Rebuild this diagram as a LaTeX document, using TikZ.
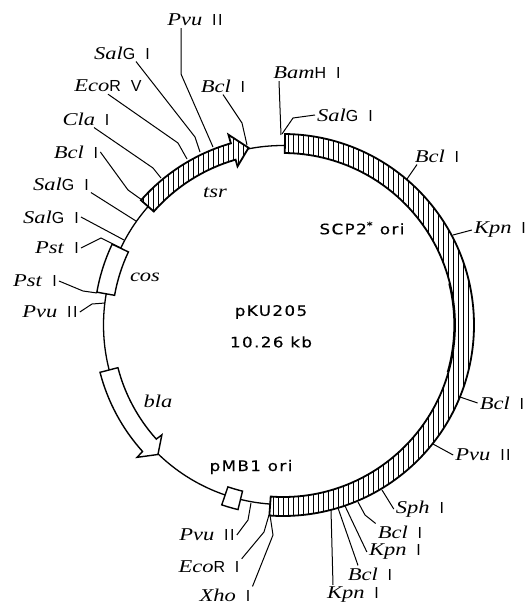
\documentclass[tikz,border=0pt]{standalone}
\usepackage{fontspec}
\setmainfont[FakeStretch=1.25]{Liberation Serif}
\setsansfont{Liberation Sans}
\newfontfamily\mapfont[LetterSpace=10,FakeStretch=1.15,FakeBold=0.3]{DejaVu Sans}
\usepackage{tikz}
\usetikzlibrary{calc}
\newcommand{\enz}[2]{\textit{#1}\hspace{.55em}{\fontsize{16}{18}\sffamily #2}}
\newcommand{\enzc}[3]{\textit{#1}{\fontsize{16}{18}\sffamily #2}\hspace{.55em}{\fontsize{16}{18}\sffamily #3}}
\newcommand{\sector}[4]{(#1:#3) arc[start angle=#1,end angle=#2,radius=#3] -- (#2:#4) arc[start angle=#2,end angle=#1,radius=#4] -- cycle}
\newcommand{\tsrpath}{(221.3:189) arc[start angle=221.3,end angle=254,radius=189] -- (254:198) -- (259:180.5) -- (254:165) -- (254:172) arc[start angle=254,end angle=221.3,radius=172] -- cycle}
\tikzset{
  backbone/.style={draw=black,line width=1.3pt},
  bandedge/.style={draw=black,line width=1.8pt,line join=miter},
  boxedge/.style={draw=black,line width=1.4pt,fill=white,line join=miter},
  hatch/.style={draw=black,line width=1pt},
  leader/.style={draw=black,line width=1pt},
  sitelabel/.style={font=\fontsize{18}{20}\selectfont,inner sep=2pt},
  genelabel/.style={font=\fontsize{18}{20}\selectfont\itshape,inner sep=2pt},
  maplabel/.style={font=\fontsize{14.5}{16}\mapfont,inner sep=2pt}
}
\begin{document}
\begin{tikzpicture}[x=1pt,y=-1pt]
  \useasboundingbox (0,0) rectangle (530,605);

  % plasmid ring, angles run clockwise from the right
  \begin{scope}[shift={(283,325)}]
    \draw[backbone] (0,0) circle[radius=179.5];

    % SCP2* ori segment
    \fill[white] \sector{-89.4}{94.1}{191}{172};
    \begin{scope}
      \clip \sector{-89.4}{94.1}{191}{172};
      \foreach \hx in {-10,-5,...,195}
        \draw[hatch] (\hx,-200) -- (\hx,200);
    \end{scope}
    \draw[bandedge] \sector{-89.4}{94.1}{191}{172};
    \draw[line width=1.8pt] (-14:171.3) arc[start angle=-14,end angle=16,radius=171.3];

    % tsr arrow
    \path[fill=white] \tsrpath;
    \begin{scope}
      \clip \tsrpath;
      \foreach \hx in {-150,-145,...,-25}
        \draw[hatch] (\hx,-200) -- (\hx,-50);
    \end{scope}
    \draw[bandedge] \tsrpath;

    % cos and pMB1 boxes
    \draw[boxedge] \sector{190}{205.3}{189}{171};
    \draw[boxedge] \sector{103.7}{108.8}{190}{171};

    % bla arrow
    \draw[boxedge] (165.5:189) arc[start angle=165.5,end angle=138,radius=189] -- (137.8:197) -- (134:180) -- (137.8:163.5) -- (138:170.5) arc[start angle=138,end angle=165.5,radius=170.5] -- cycle;
  \end{scope}

  % free ends of the leaders
  \coordinate (sitePvuTop) at (213,147);
  \coordinate (siteSalA) at (200,152);
  \coordinate (siteEcoV) at (187,159);
  \coordinate (siteCla) at (161,178);
  \coordinate (siteBclLeft) at (142,200);
  \coordinate (siteSalB) at (136,221);
  \coordinate (siteSalC) at (124,240);
  \coordinate (sitePstA) at (121,248);
  \coordinate (sitePstB) at (97,293);
  \coordinate (sitePvuLeft) at (105,303);
  \coordinate (siteBclTop) at (247,145);
  \coordinate (siteBam) at (281,135);
  \coordinate (siteSalTop) at (282,134);
  \coordinate (siteBclUp) at (407,179);
  \coordinate (siteKpnUp) at (453,235);
  \coordinate (siteBclRight) at (460,397);
  \coordinate (sitePvuRight) at (433,444);
  \coordinate (siteSph) at (382,490);
  \coordinate (siteBclLow) at (358,502);
  \coordinate (siteKpnLow) at (345,506);
  \coordinate (siteBclBot) at (338,508);
  \coordinate (siteKpnBot) at (331,510);
  \coordinate (sitePvuBot) at (251,503);
  \coordinate (siteEcoI) at (269,515);
  \coordinate (siteXho) at (270,515);

  % site labels
  \node[sitelabel] (pvuTop) at (195,20) {\enz{Pvu}{I\kern1.5pt I}};
  \node[sitelabel] (salA) at (122,53) {\enzc{Sal}{G}{I}};
  \node[sitelabel] (ecoV) at (108,86) {\enzc{Eco}{R}{V}};
  \node[sitelabel] (claI) at (86,119) {\enz{Cla}{I}};
  \node[sitelabel] (bclLeft) at (76,152) {\enz{Bcl}{I}};
  \node[sitelabel] (salB) at (61,184) {\enzc{Sal}{G}{I}};
  \node[sitelabel] (salC) at (51,217) {\enzc{Sal}{G}{I}};
  \node[sitelabel] (pstA) at (57,248) {\enz{Pst}{I}};
  \node[sitelabel] (pstB) at (35,281) {\enz{Pst}{I}};
  \node[sitelabel] (pvuLeft) at (50,312) {\enz{Pvu}{I\kern1.5pt I}};
  \node[sitelabel] (bclTop) at (223,86) {\enz{Bcl}{I}};
  \node[sitelabel] (bamH) at (307,73) {\enzc{Bam}{H}{I}};
  \node[sitelabel] (salTop) at (345,115) {\enzc{Sal}{G}{I}};
  \node[sitelabel] (bclUp) at (437,156) {\enz{Bcl}{I}};
  \node[sitelabel] (kpnUp) at (500,230) {\enz{Kpn}{I}};
  \node[sitelabel] (bclRight) at (502,403) {\enz{Bcl}{I}};
  \node[sitelabel] (pvuRight) at (483,455) {\enz{Pvu}{I\kern1.5pt I}};
  \node[sitelabel] (sphI) at (420,509) {\enz{Sph}{I}};
  \node[sitelabel] (bclLow) at (400,532) {\enz{Bcl}{I}};
  \node[sitelabel] (kpnLow) at (395,552) {\enz{Kpn}{I}};
  \node[sitelabel] (bclBot) at (370,574) {\enz{Bcl}{I}};
  \node[sitelabel] (kpnBot) at (353,595) {\enz{Kpn}{I}};
  \node[sitelabel] (pvuBot) at (207,535) {\enz{Pvu}{I\kern1.5pt I}};
  \node[sitelabel] (ecoI) at (209,567) {\enzc{Eco}{R}{I}};
  \node[sitelabel] (xhoI) at (225,595) {\enz{Xho}{I}};

  % gene and map labels
  \node[genelabel] (tsr) at (215,193) {tsr};
  \node[genelabel] (cos) at (145,277) {cos};
  \node[genelabel] (bla) at (158,401) {bla};
  \node[maplabel] (scp) at (362,228) {SCP2\textsuperscript{*} ori};
  \node[maplabel] (pmb) at (251,467) {pMB1 ori};
  \node[maplabel] (name) at (271,312) {pKU205};
  \node[maplabel] (size) at (271,342) {10.26 kb};

  \draw[leader] ([xshift=-14pt]pvuTop.south) -- (181,74) -- (sitePvuTop);
  \draw[leader] ([xshift=14pt]salA.south) -- (195,137) -- (siteSalA);
  \draw[leader] (ecoV.south) -- (178,143) -- (siteEcoV);
  \draw[leader] ([xshift=8pt]claI.south) -- (153,168) -- (siteCla);
  \draw[leader] (bclLeft.east) -- (128,190) -- (siteBclLeft);
  \draw[leader] (salB.south east) -- (siteSalB);
  \draw[leader] (salC.east) -- (siteSalC);
  \draw[leader] (pstA.east) -- (101,238) -- (sitePstA);
  \draw[leader] (pstB.east) -- (83,291) -- (sitePstB);
  \draw[leader] (pvuLeft.east) -- (92,304) -- (sitePvuLeft);
  \draw[leader] (bclTop.south) -- (242,123) -- (siteBclTop);
  \draw[leader] ([xshift=-28pt]bamH.south) -- (siteBam);
  \draw[leader] (salTop.west) -- (293,118) -- (siteSalTop);
  \draw[leader] ([xshift=-20pt]bclUp.south) -- (siteBclUp);
  \draw[leader] (kpnUp.west) -- (siteKpnUp);
  \draw[leader] (bclRight.west) -- (siteBclRight);
  \draw[leader] (pvuRight.west) -- (sitePvuRight);
  \draw[leader] (sphI.west) -- (siteSph);
  \draw[leader] (bclLow.north west) -- (365,515) -- (siteBclLow);
  \draw[leader] (kpnLow.west) -- (siteKpnLow);
  \draw[leader] ([xshift=-12pt]bclBot.north) -- (siteBclBot);
  \draw[leader] ([xshift=-20pt]kpnBot.north) -- (siteKpnBot);
  \draw[leader] (pvuBot.east) -- (248,520) -- (sitePvuBot);
  \draw[leader] (ecoI.north east) -- (264,532) -- (siteEcoI);
  \draw[leader] (xhoI.north east) -- (273,535) -- (siteXho);
\end{tikzpicture}
\end{document}
